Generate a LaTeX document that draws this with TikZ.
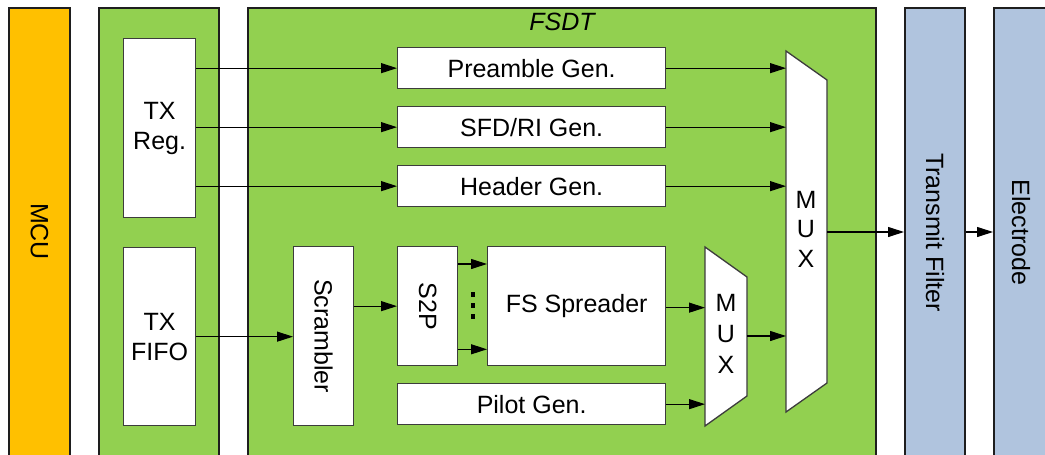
\documentclass[tikz,border=0pt]{standalone}
\usepackage{fontspec}
\setmainfont{Liberation Sans}
\usetikzlibrary{arrows.meta}
\definecolor{mcuorange}{RGB}{255,192,0}
\definecolor{fgreen}{RGB}{146,208,80}
\definecolor{fblue}{RGB}{176,196,222}
\definecolor{edge}{RGB}{30,30,30}
\definecolor{iedge}{RGB}{60,60,60}
\begin{document}
\begin{tikzpicture}[x=1pt,y=-1pt,
  font=\fontsize{25}{30}\selectfont,
  outer/.style={draw=edge, line width=2pt, inner sep=0pt},
  blk/.style={draw=iedge, line width=1.3pt, fill=white, anchor=north west, inner sep=0pt, align=center},
  mux/.style={draw=iedge, line width=1.3pt, fill=white, line join=miter},
  sig/.style={-{Triangle[length=16pt,width=10pt]}, line width=1.1pt},
  lbl/.style={inner sep=0pt, align=center}]
\useasboundingbox (0,0) rectangle (1045,455);

% outer columns
\node[outer, fill=mcuorange, minimum width=61pt, minimum height=470pt] (mcu) at (39.5,243) {};
\node[outer, fill=fgreen, minimum width=120pt, minimum height=470pt] (host) at (159,243) {};
\node[outer, fill=fgreen, minimum width=628pt, minimum height=470pt] (fsdt) at (562,243) {};
\node[outer, fill=fblue, minimum width=60pt, minimum height=470pt] (tf) at (935,243) {};
\node[outer, fill=fblue, minimum width=66pt, minimum height=470pt] (el) at (1027,243) {};

\node[lbl, rotate=-90] (mcuL) at (39.5,231.5) {MCU};
\node[lbl, rotate=-90] (tfL) at (935,232.5) {Transmit Filter};
\node[lbl, rotate=-90] (elL) at (1021,232.5) {Electrode};
\node[lbl, font=\fontsize{25}{30}\selectfont\itshape] (fsdtL) at (562,22) {FSDT};

% inner blocks
\node[blk, minimum width=72pt, minimum height=179pt] (txreg) at (123,38) {TX\\Reg.};
\node[blk, minimum width=72pt, minimum height=178pt] (txfifo) at (123,247) {TX\\FIFO};
\node[blk, minimum width=268pt, minimum height=41pt] (pre) at (397,47) {Preamble Gen.};
\node[blk, minimum width=268pt, minimum height=41pt] (sfd) at (397,106) {SFD/RI Gen.};
\node[blk, minimum width=268pt, minimum height=41pt] (hdr) at (397,165) {Header Gen.};
\node[blk, minimum width=60pt, minimum height=179pt] (scr) at (293,246) {};
\node[lbl, rotate=-90] (scrL) at (scr.center) {Scrambler};
\node[blk, minimum width=60pt, minimum height=119pt] (s2p) at (397,246) {};
\node[lbl, rotate=-90] (s2pL) at (s2p.center) {S2P};
\node[blk, minimum width=178pt, minimum height=119pt] (fss) at (487,246) {FS Spreader};
\node[blk, minimum width=268pt, minimum height=41pt] (pil) at (397,383) {Pilot Gen.};

% multiplexers
\coordinate (smTL) at (705,247);
\coordinate (smTR) at (747,277);
\coordinate (smBR) at (747,396);
\coordinate (smBL) at (705,426);
\draw[mux] (smTL) -- (smTR) -- (smBR) -- (smBL) -- cycle;
\node[lbl, font=\fontsize{25}{31}\selectfont] (smux) at (726,334) {M\\U\\X};

\coordinate (bmTL) at (786,51);
\coordinate (bmTR) at (827,80);
\coordinate (bmBR) at (827,383);
\coordinate (bmBL) at (786,412);
\draw[mux] (bmTL) -- (bmTR) -- (bmBR) -- (bmBL) -- cycle;
\node[lbl, font=\fontsize{25}{29.5}\selectfont] (bmux) at (806,229) {M\\U\\X};

% dots between S2P and FS Spreader
\fill (470.5,291.5) rectangle (474.5,296.5);
\fill (470.5,302.5) rectangle (474.5,307.5);
\fill (470.5,313.5) rectangle (474.5,318.5);

% connectors
\draw[sig] (txreg.east |- pre.west) -- (pre.west);
\draw[sig] (txreg.east |- sfd.west) -- (sfd.west);
\draw[sig] (txreg.east |- hdr.west) -- (hdr.west);
\draw[sig] (pre.east) -- (pre.east -| bmTL);
\draw[sig] (sfd.east) -- (sfd.east -| bmTL);
\draw[sig] (hdr.east) -- (hdr.east -| bmTL);

\draw[sig] (txfifo.east) -- (txfifo.east -| scr.west);
\draw[sig] (scr.east |- s2p.west) -- (s2p.west);
\coordinate (s2pa) at ([yshift=-18pt]s2p.north east);
\coordinate (s2pb) at ([yshift=17pt]s2p.south east);
\draw[sig] (s2pa) -- (s2pa -| fss.west);
\draw[sig] (s2pb) -- (s2pb -| fss.west);
\coordinate (fssOut) at ([yshift=-1.5pt]fss.east);
\draw[sig] (fssOut) -- (fssOut -| smTL);
\draw[sig] (pil.east) -- (pil.east -| smTL);

\coordinate (smOut) at (747,336);
\draw[sig] (smOut) -- (smOut -| bmTL);
\coordinate (bmOut) at (827,232);
\draw[sig] (bmOut) -- (bmOut -| tf.west);
\draw[sig] (tf.east |- bmOut) -- (bmOut -| el.west);
\end{tikzpicture}
\end{document}
